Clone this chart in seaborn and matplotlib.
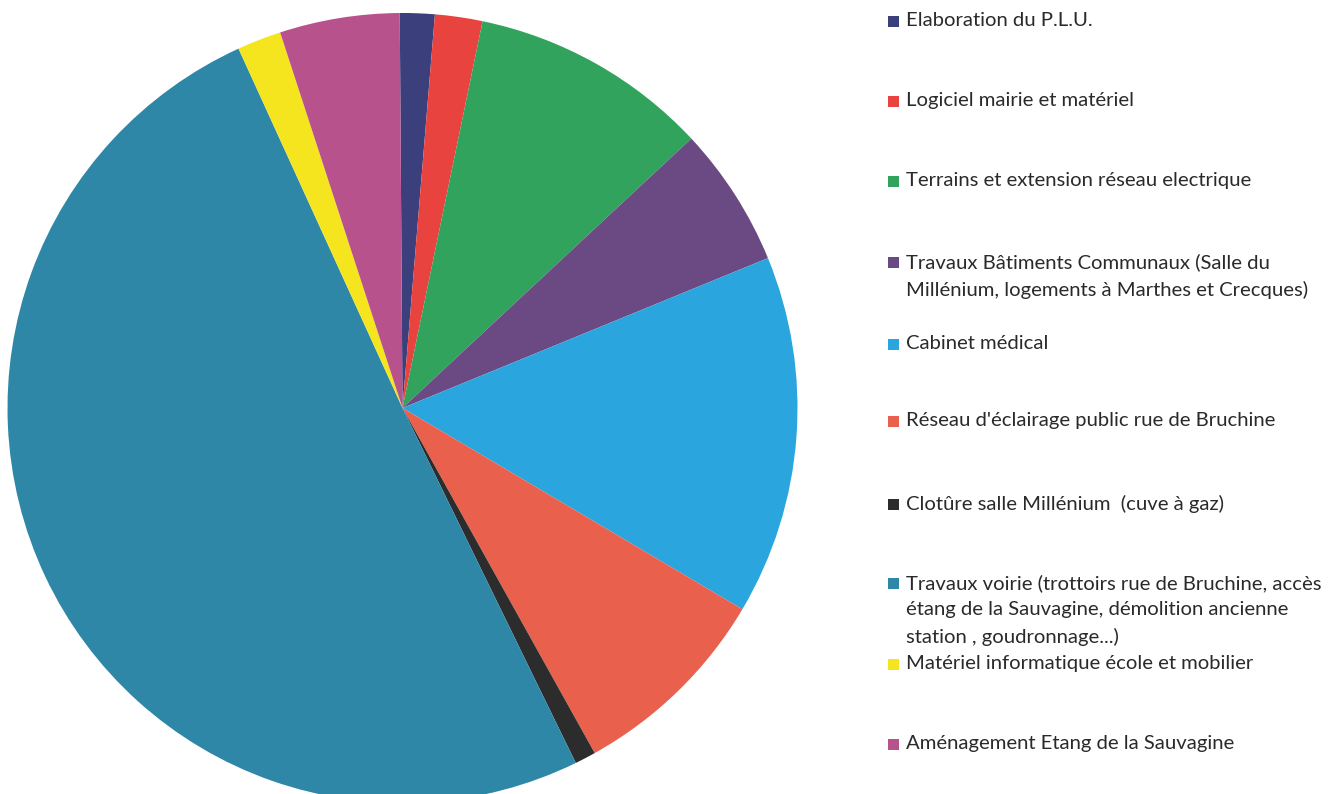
import matplotlib
matplotlib.use("Agg")
import matplotlib.pyplot as plt
import seaborn as sns
from matplotlib.patches import Rectangle

# --- data (shares of the total, in %) ---
labels = [
    "Elaboration du P.L.U.",
    "Logiciel mairie et matériel",
    "Terrains et extension réseau electrique",
    "Travaux Bâtiments Communaux (Salle du\nMillénium, logements à Marthes et Crecques)",
    "Cabinet médical",
    "Réseau d'éclairage public rue de Bruchine",
    "Clotûre salle Millénium  (cuve à gaz)",
    "Travaux voirie (trottoirs rue de Bruchine, accès\nétang de la Sauvagine, démolition ancienne\nstation , goudronnage...)",
    "Matériel informatique école et mobilier",
    "Aménagement Etang de la Sauvagine",
]
shares = [1.42, 1.94, 9.8, 5.75, 14.7, 8.4, 0.86, 50.4, 1.8, 4.9]
colors = ["#3b3f7c", "#e8433f", "#31a35c", "#6b4a84", "#2aa5de",
          "#e9614c", "#2c2c2c", "#2f87a8", "#f5e51f", "#b8528c"]

# legend row positions (pixels from top of the image) - layout only
legend_y = [21, 101, 181, 262, 344, 421, 504, 583, 664, 744]

sns.set_theme(style="white")
plt.rcParams["font.family"] = ["Lato", "DejaVu Sans"]

W, H = 1332, 794
fig = plt.figure(figsize=(W / 100, H / 100), dpi=100)
fig.patch.set_facecolor("white")

# pie axes: centre ~ (402, 408) px, radius ~395 px
cx, cy, r = 402.5, 408, 395
ax = fig.add_axes([(cx - r) / W, (H - cy - r) / H, 2 * r / W, 2 * r / H])
ax.pie(shares, colors=sns.color_palette(colors), startangle=90.4,
       counterclock=False, radius=1.0,
       wedgeprops=dict(linewidth=0, antialiased=True))
ax.set_xlim(-1, 1)
ax.set_ylim(-1, 1)
ax.set_aspect("equal")
ax.axis("off")

# manual legend
for lab, col, y in zip(labels, colors, legend_y):
    fig.patches.append(Rectangle((888 / W, (H - y - 6) / H), 11 / W, 11 / H,
                                 transform=fig.transFigure, facecolor=col,
                                 edgecolor="none"))
    fig.text(906 / W, (H - y + 9) / H, lab, fontsize=14.6, color="#2a2a2a",
             ha="left", va="top", linespacing=1.66,
             transform=fig.transFigure)

fig.savefig("out.png", dpi=100, facecolor="white")
